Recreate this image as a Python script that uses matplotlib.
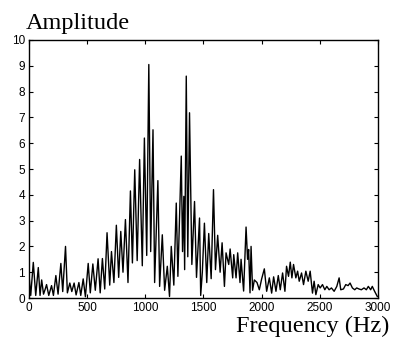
import matplotlib
matplotlib.use("Agg")
import matplotlib.pyplot as plt

freq = [0, 15, 37, 58, 80, 95, 109, 125, 140, 151, 170, 194, 210, 231, 250, 274, 290, 314, 330, 351,
        368, 388, 405, 429, 445, 466, 485, 509, 527, 549, 570, 594, 612, 631, 651, 671, 694, 709, 730, 751,
        771, 789, 808, 829, 851, 872, 889, 909, 930, 951, 974, 992, 1012, 1030, 1046, 1066, 1080, 1108, 1123, 1146,
        1166, 1189, 1208, 1223, 1245, 1266, 1280, 1309, 1320, 1331, 1338, 1352, 1365, 1380, 1400, 1423, 1440, 1466, 1476, 1490,
        1508, 1528, 1545, 1566, 1586, 1603, 1622, 1643, 1660, 1680, 1694, 1717, 1729, 1751, 1760, 1780, 1794, 1814, 1823, 1845,
        1866, 1879, 1888, 1900, 1909, 1922, 1937, 1960, 1980, 2000, 2023, 2043, 2066, 2086, 2103, 2123, 2143, 2160, 2180, 2200,
        2214, 2231, 2246, 2260, 2274, 2294, 2309, 2323, 2343, 2360, 2380, 2400, 2417, 2437, 2451, 2466, 2486, 2503, 2523, 2543,
        2560, 2580, 2600, 2623, 2646, 2666, 2680, 2703, 2723, 2743, 2760, 2780, 2800, 2817, 2837, 2857, 2880, 2900, 2917, 2937,
        2951, 2971, 2994]
amplitude = [0.9, 0.1, 1.38, 0.1, 1.18, 0.1, 0.7, 0.15, 0.35, 0.52, 0.1, 0.48, 0.1, 0.87, 0.15, 1.34, 0.25, 2.0, 0.2, 0.58,
             0.25, 0.58, 0.12, 0.6, 0.1, 0.74, 0.05, 1.34, 0.2, 1.32, 0.3, 1.52, 0.2, 1.53, 0.35, 2.53, 0.5, 1.8, 0.6, 2.82,
             0.8, 2.58, 1.0, 3.04, 0.6, 4.15, 1.36, 4.97, 1.45, 5.37, 1.25, 6.2, 1.65, 9.05, 1.8, 6.52, 0.6, 4.55, 0.45, 2.45,
             0.3, 1.23, 0.06, 2.0, 0.5, 3.68, 0.84, 5.5, 1.8, 3.94, 1.1, 8.6, 1.6, 7.18, 1.3, 3.74, 0.8, 3.1, 0.1, 1.0,
             2.9, 0.6, 2.5, 0.75, 4.2, 1.1, 2.43, 1.0, 2.14, 0.45, 1.75, 1.3, 1.9, 0.78, 1.68, 0.78, 1.75, 0.6, 1.5, 0.27,
             2.75, 1.5, 1.88, 0.2, 2.0, 0.3, 0.7, 0.6, 0.32, 0.74, 1.13, 0.26, 0.78, 0.19, 0.82, 0.26, 0.87, 0.32, 0.97, 0.26,
             1.23, 0.84, 1.39, 0.78, 1.3, 0.78, 1.04, 0.65, 0.97, 0.52, 1.04, 0.65, 1.04, 0.19, 0.65, 0.13, 0.52, 0.39, 0.52, 0.32,
             0.45, 0.32, 0.39, 0.26, 0.45, 0.78, 0.32, 0.35, 0.52, 0.48, 0.58, 0.39, 0.32, 0.39, 0.35, 0.32, 0.39, 0.32, 0.45, 0.32,
             0.45, 0.26, 0.06]

xticks = [0, 500, 1000, 1500, 2000, 2500, 3000]
yticks = list(range(0, 11))

fig = plt.figure(figsize=(3.96, 3.46), dpi=100)
ax = fig.add_axes([0.0732, 0.1387, 0.8813, 0.7457])
ax.plot(freq, amplitude, color="black", lw=1.0)
ax.set_xlim(0, 3000)
ax.set_ylim(0, 10)
ax.set_xticks(xticks)
ax.set_yticks(yticks)
ax.tick_params(direction="in", length=3, width=0.8, top=True, right=True, pad=3,
               labelsize=8.5)
for lab in ax.get_xticklabels() + ax.get_yticklabels():
    lab.set_family("Liberation Sans")
for s in ax.spines.values():
    s.set_linewidth(1.0)

fig.text(26 / 396, 1 - 29 / 346, "Amplitude", family="Liberation Serif", fontsize=17.5,
         ha="left", va="baseline")
fig.text(389 / 396, 1 - 332 / 346, "Frequency (Hz)", family="Liberation Serif", fontsize=17.5,
         ha="right", va="baseline")

fig.savefig("out.png", dpi=100)
